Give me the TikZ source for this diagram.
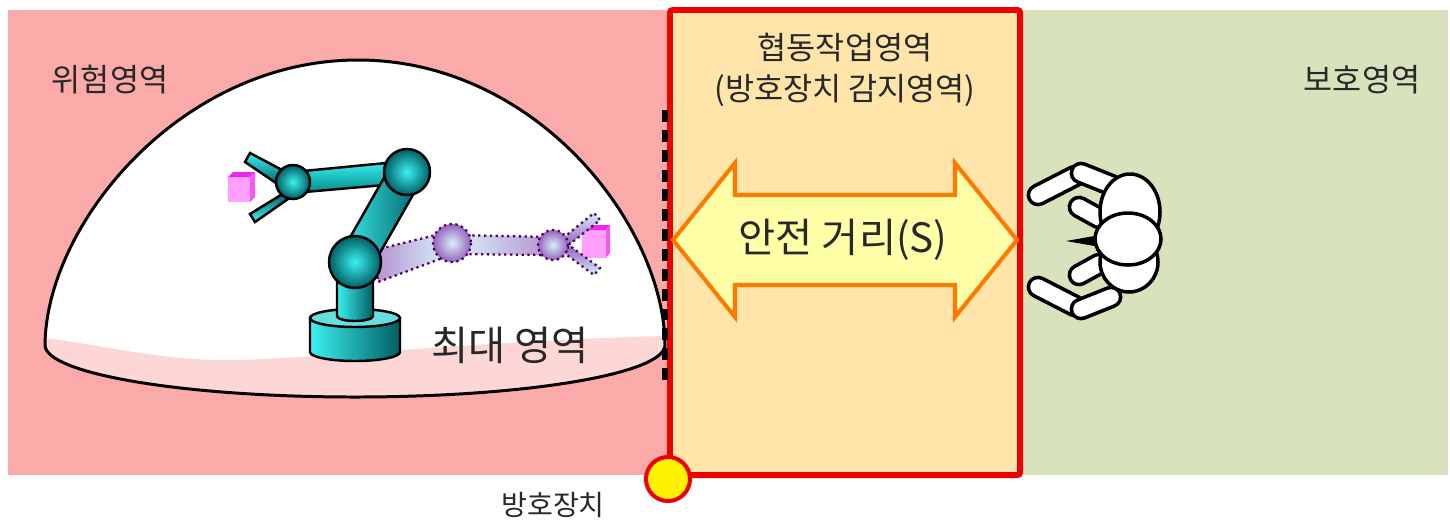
\documentclass[tikz,border=0pt]{standalone}
\usepackage{fontspec}
\setmainfont{Noto Sans CJK KR}
\usepackage{tikz}
\usetikzlibrary{calc}
\definecolor{hazardpink}{RGB}{251,170,170}
\definecolor{floorpink}{RGB}{253,214,214}
\definecolor{collabyellow}{RGB}{255,229,170}
\definecolor{safegreen}{RGB}{216,226,188}
\definecolor{guardred}{RGB}{238,0,0}
\definecolor{arrowfill}{RGB}{255,255,168}
\definecolor{arroworange}{RGB}{255,120,0}
\definecolor{txtgray}{RGB}{40,40,40}
\definecolor{robolight}{RGB}{60,240,240}
\definecolor{robomid}{RGB}{0,200,200}
\definecolor{robodark}{RGB}{0,95,100}
\definecolor{ghostlight}{RGB}{215,240,248}
\definecolor{ghostpurple}{RGB}{150,100,190}
\definecolor{ghostline}{RGB}{80,0,100}
\definecolor{cubefront}{RGB}{255,160,255}
\definecolor{cubetop}{RGB}{235,40,235}
\tikzset{
  zonetext/.style={font=\fontsize{18}{23}\selectfont, text=txtgray, inner sep=0pt, align=center},
  bigtext/.style={font=\fontsize{23}{27}\selectfont, text=txtgray, inner sep=0pt},
  collabbox/.style={draw=guardred, fill=collabyellow, line width=3.4pt, rounded corners=1.5pt},
  domeline/.style={draw=black, line width=1.7pt},
  roboline/.style={draw=black, line width=1.4pt},
  ghostedge/.style={draw=ghostline, line width=1.3pt, dotted},
  joint/.style={roboline, inner color=robolight, outer color=robodark},
  ghostjoint/.style={ghostedge, inner color=ghostlight, outer color=ghostpurple},
  limbout/.style={line width=13pt, line cap=round, draw=black},
  limbin/.style={line width=8.8pt, line cap=round, draw=white},
  bodyline/.style={draw=black, fill=white, line width=2pt}
}

\begin{document}
\begin{tikzpicture}[x=0.02cm, y=-0.02cm]
  \useasboundingbox (0,0) rectangle (1450,529);

  % the three zones
  \fill[hazardpink] (8,10) rectangle (670,475);
  \fill[safegreen] (1020,10) rectangle (1448,475);
  \draw[collabbox] (670,10) rectangle (1020,475);

  % reach dome
  \fill[white] (45,345) .. controls (46,225) and (180,60) .. (358,60)
    .. controls (536,60) and (664,225) .. (665,345)
    arc[start angle=0, end angle=180, x radius=310, y radius=52];
  \fill[floorpink] (45,338) .. controls (120,348) and (170,362) .. (240,360)
    .. controls (330,357) and (500,340) .. (665,336) -- (665,345)
    arc[start angle=0, end angle=180, x radius=310, y radius=52] -- cycle;
  \draw[domeline] (45,345) .. controls (46,225) and (180,60) .. (358,60)
    .. controls (536,60) and (664,225) .. (665,345)
    arc[start angle=0, end angle=180, x radius=310, y radius=52];
  \draw[line width=3.2pt, dash pattern=on 6.8pt off 4.5pt] (665,110) -- (665,380);

  % stretched arm (dotted)
  \fill[cubefront] (582,230) rectangle (606,258);
  \fill[cubetop] (582,230) -- (587,225) -- (610,225) -- (606,230) -- cycle;
  \fill[cubetop!60!cubefront] (606,230) -- (610,225) -- (610,253) -- (606,258) -- cycle;
  \draw[ghostedge, top color=ghostlight, bottom color=ghostpurple]
    (563,238) -- (594,213) -- (600,220) -- (570,244) -- cycle;
  \draw[ghostedge, top color=ghostpurple, bottom color=ghostlight]
    (563,252) -- (594,275) -- (600,268) -- (570,246) -- cycle;
  \draw[ghostedge, left color=ghostpurple!70, right color=ghostlight]
    (375,250) -- (440,234) -- (448,256) -- (378,282) -- cycle;
  \draw[ghostedge, left color=ghostlight, right color=ghostpurple!70]
    (455,235) -- (550,237) -- (550,255) -- (455,254) -- cycle;
  \draw[ghostjoint] (452,243) circle[radius=19];
  \draw[ghostjoint] (553,245) circle[radius=15];

  % robot arm
  \fill[cubefront] (228,177) rectangle (250,202);
  \fill[cubetop] (228,177) -- (233,172) -- (255,172) -- (250,177) -- cycle;
  \fill[cubetop!60!cubefront] (250,177) -- (255,172) -- (255,197) -- (250,202) -- cycle;
  \draw[roboline, top color=robolight, bottom color=robodark]
    (284,171) -- (250,153) -- (245,162) -- (279,185) -- cycle;
  \draw[roboline, top color=robodark, bottom color=robolight]
    (284,193) -- (250,214) -- (255,222) -- (288,199) -- cycle;
  \draw[roboline, top color=robolight, bottom color=robomid!70!black]
    (293,172) -- (407,161) -- (407,183) -- (293,193) -- cycle;
  \draw[joint] (293,182) circle[radius=17];
  \draw[roboline, left color=robolight, right color=robodark]
    (393,162) -- (422,179) -- (369,272) -- (340,255) -- cycle;
  \draw[joint] (407,172) circle[radius=23];
  \draw[roboline, left color=robolight, right color=robodark]
    (310,318) -- (310,352) arc[start angle=180, end angle=0, x radius=45, y radius=9]
    -- (400,318) -- cycle;
  \draw[roboline, fill=robomid!60!white] (355,318) ellipse[x radius=45, y radius=9];
  \draw[roboline, left color=robolight, right color=robodark]
    (337,272) -- (337,316) arc[start angle=180, end angle=0, x radius=18, y radius=5]
    -- (373,272) -- cycle;
  \draw[joint] (355,262) circle[radius=26];

  % safety distance arrow
  \draw[draw=arroworange, fill=arrowfill, line width=2.3pt, line join=miter]
    (673,240) -- (735,163) -- (735,195) -- (955,195) -- (955,163) -- (1017,240)
    -- (955,317) -- (955,285) -- (735,285) -- (735,317) -- cycle;

  % operator seen from above
  \draw[limbout] (1038,195) -- (1075,176); \draw[limbin] (1038,195) -- (1075,176);
  \draw[limbout] (1038,287) -- (1075,306); \draw[limbin] (1038,287) -- (1075,306);
  \draw[limbout] (1081,173) -- (1111,185); \draw[limbin] (1081,173) -- (1111,185);
  \draw[limbout] (1081,309) -- (1111,297); \draw[limbin] (1081,309) -- (1111,297);
  \draw[limbout] (1079,207) -- (1099,218); \draw[limbin] (1079,207) -- (1099,218);
  \draw[limbout] (1079,275) -- (1099,264); \draw[limbin] (1079,275) -- (1099,264);
  \draw[bodyline] (1130,212) ellipse[x radius=30, y radius=38];
  \draw[bodyline] (1129,262) ellipse[x radius=29, y radius=30];
  \fill[black] (1066,241) -- (1100,235) -- (1100,247) -- cycle;
  \draw[bodyline] (1128,239) ellipse[x radius=33, y radius=26];

  % protective device
  \draw[draw=guardred, fill=yellow, line width=2.3pt] (668,479) circle[radius=22];

  % labels
  \node[zonetext] (hazard) at (110,80) {위험영역};
  \node[zonetext] (collab) at (845,70) {협동작업영역\\(방호장치 감지영역)};
  \node[zonetext] (safe) at (1362,80) {보호영역};
  \node[bigtext] (dist) at (843,240) {안전 거리(S)};
  \node[bigtext] (reach) at (510,345) {최대 영역};
  \node[zonetext, font=\fontsize{16}{20}\selectfont] (guard) at (553,505) {방호장치};
\end{tikzpicture}
\end{document}
